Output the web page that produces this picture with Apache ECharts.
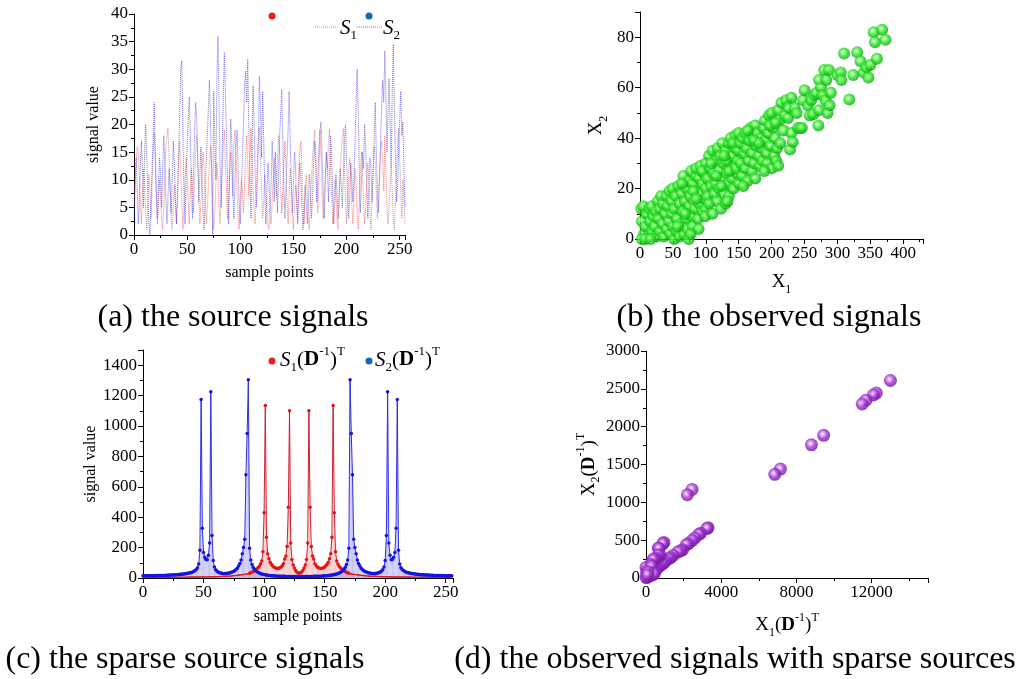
<!DOCTYPE html>
<html>
<head>
<meta charset="utf-8">
<script src="https://cdn.jsdelivr.net/npm/echarts/dist/echarts.min.js"></script>
<style>
html, body { margin: 0; padding: 0; background: #fff; }
#chart { width: 1022px; height: 679px; }
</style>
</head>
<body>
<div id="chart"></div>
<script>
// ---- (a) source signals, 256 samples each ----
const sourceS1 = [
  5,10,13,16,15,11,6,2,8,12,9,4,1,6,11,8,
  3,9,15,18.5,13,7,2,6,10,7,3,1,5,11,16,18,
  19.4,14,8,3,1,5,9,6,2,7,13,17,12,6,1,5,
  10,14,11,6,2,8,12,9,4,10,15,18,13,7,2,6,
  11,15,12,7,2,5,9,13,16,12,6,1,4,9,13,10,
  5,2,7,12,16,19,13,8,3,6,11,15,12,7,16,19,
  14,8,3,1,6,10,8,4,9,14,18,13,7,12,19.4,15,
  9,4,2,7,13,17,19.5,14,8,3,6,11,9,5,2,1,
  4,2,6,10,14,11,7,13,18,15,9,4,8,13,17,12,
  6,2,7,12,9,4,1,5,9,7,3,11,15,17,12,6,
  2,7,11,8,3,1,6,10,14,17,19,15,9,4,10,19,
  14,8,3,6,11,15,12,17,19.2,13,7,2,5,10,8,3,
  1,6,11,15,18,19.3,13,7,2,6,10,14,11,5,2,7,
  12,9,4,1,6,11,15,12,6,2,5,9,13,10,4,1,
  6,12,16,13,8,3,7,11,15,17,13,8,18,12,6,2,
  5,9,12,8,3,1,6,11,16,19.3,14,8,3,10,6,2
];
const sourceS2 = [
  3,8,14,9,2,6,13,17,12,5,15,20,14,8,2,0,
  6,12,17,24,16,8,3,9,14,11,5,12,18,13,6,2,
  7,12,9,4,10,17,13,6,2,8,15,22,30,31.5,18,8,
  2,10,16,21,25,18,9,3,12,19,24,21,14,6,11,16,
  10,4,1,7,13,18,23,28,20,12,0,26,18,10,28,36,
  24,12,5,15,25,33,26,18,10,2,12,21,17,8,3,10,
  16,19,12,6,2,8,14,20,27,29.7,24,31.8,20,10,3,14,
  27,20,11,5,9,17,28.8,22,14,26,18,8,2,7,13,10,
  4,9,17,12,6,15,10,4,11,18,22,26.3,17,9,3,8,
  14,19,26,17,10,4,9,15,12,6,2,8,13,10,5,1,
  4,9,6,2,5,11,8,3,7,13,17,12,6,10,16,19,
  20.5,14,8,3,9,15,12,6,11,18,14,7,2,6,11,8,
  3,7,12,9,5,11,17,20,14,8,3,7,13,10,6,11,
  17,24,30,22,12,4,9,15,12,20,16,9,3,8,14,12,
  6,11,17,24,15,8,4,10,17,23,28,24,33.3,26,15,22,
  28.3,20,12,26,34.5,23,14,6,9,16,21,26,18,20.5,12,5
];

// ---- (b) observed mixtures [X1, X2] ----
const observed = [
  [2,12],[5,13],[3,7],[6,2],[8,5],[10,10],[12,1],[14,12],[15,7],[18,3],[18,13],[20,9],[22,5],[24,11],[25,1],
  [27,15],[28,8],[30,3],[30,12],[32,17],[34,6],[35,14],[36,1],[38,10],[40,17],[40,4],[42,13],[44,7],[45,19],
  [46,2],[48,15],[48,10],[50,20],[50,5],[52,0],[3,0],[8,0],[16,0],
  [52,12],[54,17],[55,3],[56,8],[58,21],[60,14],[60,1],[62,6],[63,18],[65,11],[66,25],[67,2],[68,15],[70,20],
  [70,8],[72,4],[73,23],[75,13],[76,17],[78,9],[78,27],[80,22],[80,5],[82,15],[83,12],[85,25],[85,28],[87,19],
  [88,8],[90,14],[90,24],[92,29],[93,18],[95,11],[95,22],[97,26],[98,16],[100,30],[100,12],[100,20],[57,5],
  [64,22],[69,10],[74,0],[77,2],[81,19],[86,16],[89,4],[94,27],[99,9],
  [102,24],[103,17],[105,33],[105,14],[107,28],[108,21],[110,10],[110,35],[112,26],[113,18],[115,31],[115,22],
  [117,15],[118,36],[120,27],[120,20],[122,33],[123,12],[125,24],[125,38],[127,30],[128,18],[130,14],[130,35],
  [132,26],[133,22],[135,38],[135,17],[137,30],[138,40],[140,24],[140,33],[142,20],[143,29],[145,41],[145,36],
  [147,26],[148,31],[150,42],[150,22],[108,30],[116,25],[124,21],[131,31],[136,27],[141,38],[146,28],[149,35],
  [133,15],[128,33],
  [152,38],[153,30],[155,25],[156,40],[158,34],[160,28],[160,42],[162,36],[163,23],[165,31],[166,39],[168,44],
  [170,34],[170,27],[172,40],[173,30],[175,45],[175,24],[177,37],[178,42],[180,33],[182,29],[183,40],[185,36],
  [186,31],[188,44],[190,39],[190,47],[192,34],[193,30],[195,42],[196,49],[198,37],[200,50],[200,28],[202,44],
  [204,33],[205,40],[207,31],[208,36],[210,29],[210,51],[212,47],[157,21],[164,43],[174,39],[181,38],[189,27],
  [197,45],[206,46],
  [213,38],[215,54],[218,43],[220,49],[222,55],[225,48],[226,52],[228,35.5],[230,42],[232,38.5],[230,56],
  [235,52],[238,50],[240,44],[243,44],[246,44],[248,55],[250,59],[255,53],[258,49],[260,55],[263,49.5],
  [265,57],[268,58],[271,45],[272,51],[272,63],[275,60],[277,57],[280,67],[282,55],[283,63],[285,50],[287,67],
  [288,53],[290,58],[300,65],[305,66],[306,63],[310,73.5],[318,55.3],[324,65],[330,74],[335,70.5],[340,66],
  [344,68],[347,64],[350,69],[355,82],[357,78],[360,71.5],[368,83],[373,79]
];

// ---- (c) sparse sources, 256 samples each ----
const sparseS1 = [
  3,3,3,3,3,3,3,3,3,3, 3,3,3,4,4,4,4,4,4,4, 4,4,4,4,4,4,5,5,5,5, 5,5,5,5,5,5,5,6,6,6,
  6,6,6,6,6,6,7,7,7,7, 7,7,7,7,8,8,8,8,8,9, 9,9,9,10,10,10,11,11,11,12, 12,12,13,13,14,15,16,17,18,19,
  20,21,22,23,24,25,27,29,31,34, 38,42,47,53,60,68,78,92,112,172, 430,1135,268,160,126,104,90,80,72,67,
  64,63,64,67,72,80,94,125,145,208, 465,1100,230,122,86,66,50,40,34,32,
  34,40,50,66,86,122,230,1100,465,208, 145,125,94,80,72,67,64,63,64,67, 72,80,90,104,126,160,268,1135,430,172,
  112,92,78,68,60,53,47,42,38,34, 31,29,27,25,24,23,22,21,20,19, 18,17,16,15,14,13,13,12,12,12,
  11,11,11,10,10,10,9,9,9,9, 8,8,8,8,8,7,7,7,7,7, 7,7,7,6,6,6,6,6,6,6, 6,6,5,5,5,5,5,5,5,5,
  5,5,5,4,4,4,4,4,4,4, 4,4,4,4,4,4,3,3,3,3, 3,3,3,3,3,3
];
const sparseS2 = [
  14,14,14,14,14,15,15,15,15,15, 15,16,16,16,16,17,17,17,17,18, 18,18,19,19,20,20,21,21,22,23,
  23,24,25,26,27,28,30,31,33,35, 37,40,44,49,56,68,92,182,1175,328, 168,136,122,120,149,230,1225,280,115,72,
  55,46,40,36,33,31,30,29,29,30, 31,33,35,38,41,45,50,57,66,80, 95,118,160,200,255,680,950,1305,195,118,
  88,70,58,49,42,37,33,30,27,25, 23,21,20,18,17,16,15,14,14,13, 13,12,12,12,11,11,11,11,10,10,
  10,10,10,10,10,10,10,10,10,10,
  10,10,10,10,10,10,10,10,10,10, 10,11,11,11,11,12,12,12,13,13, 14,14,15,16,17,18,20,21,23,25,
  27,30,33,37,42,49,58,70,88,118, 195,1305,950,680,255,200,160,118,95,80, 66,57,50,45,41,38,35,33,31,30,
  29,29,30,31,33,36,40,46,55,72, 115,280,1225,230,149,120,122,136,168,328, 1175,182,92,68,56,49,44,40,37,35,
  33,31,30,28,27,26,25,24,23,23, 22,21,21,20,20,19,19,18,18,18, 17,17,17,17,16,16,16,16,15,15,
  15,15,15,14,14,14
];

// ---- (d) observed mixtures of the sparse sources [X1(D^-1)^T, X2(D^-1)^T] ----
const sparseObserved = [
  [13000,2610],[12250,2445],[12100,2420],[11700,2350],[11500,2300],[9450,1885],[8800,1760],[7150,1440],
  [6850,1370],[2450,1170],[2200,1100],[3300,665],[3250,655],[2900,590],[2800,575],[2600,530],[2450,495],
  [2250,455],[2150,440],[1950,375],[1850,360],[1700,345],[1450,300],[1300,270],[1200,255],[1050,225],
  [950,470],[900,455],[650,395],[700,390],[950,200],[850,180],[750,300],[650,305],[700,160],[600,130],
  [550,260],[500,240],[450,200],[500,110],[400,90],[350,230],[300,75],[400,250],[250,180],[200,140],
  [150,60],[100,130],[250,50],[200,30],[100,20],[50,100],[0,140],[30,60],[60,10],[10,5],[150,110],
  [300,160],[350,40],[450,60],[120,80],[80,40]
];

const captions = [
  '(a) the source signals',
  '(b) the observed signals',
  '(c) the sparse source signals',
  '(d) the observed signals with sparse sources'
];

const SERIF = "'Liberation Serif', 'Times New Roman', serif";
const idx = sourceS1.map((_, i) => i);
const pairs = (arr) => arr.map((v, i) => [idx[i], v]);

// rich-text styles for symbols with sub/superscripts
function mathStyles(size) {
  const small = Math.round(size * 0.64);
  return {
    n:   { fontFamily: SERIF, fontSize: size, color: '#000', lineHeight: size + 8 },
    i:   { fontFamily: SERIF, fontSize: size, color: '#000', fontStyle: 'italic', lineHeight: size + 8 },
    b:   { fontFamily: SERIF, fontSize: size, color: '#000', fontWeight: 'bold', lineHeight: size + 8 },
    sub: { fontFamily: SERIF, fontSize: small, color: '#000', verticalAlign: 'bottom', lineHeight: small + 4 },
    sup: { fontFamily: SERIF, fontSize: small, color: '#000', verticalAlign: 'top', lineHeight: small + 4 }
  };
}
const axisMath = mathStyles(19);
const legendMath = mathStyles(21);

function valueAxis(opts) {
  return Object.assign({
    type: 'value',
    axisLine: { show: true, onZero: false, lineStyle: { color: '#000', width: 1 } },
    axisTick: { show: true, length: 5, lineStyle: { color: '#000', width: 1 } },
    minorTick: { show: true, splitNumber: 2, length: 3, lineStyle: { color: '#000', width: 1 } },
    splitLine: { show: false },
    minorSplitLine: { show: false },
    nameLocation: 'middle',
    nameTextStyle: { fontFamily: SERIF, fontSize: 16, color: '#000', rich: axisMath }
  }, opts, {
    axisLabel: Object.assign({
      color: '#000', fontFamily: SERIF, fontSize: 17, margin: 6,
      formatter: (v) => String(v)
    }, opts.axisLabel || {})
  });
}

function sphere(light, mid, dark) {
  return {
    type: 'radial', x: 0.42, y: 0.4, r: 0.62,
    colorStops: [
      { offset: 0, color: '#ffffff' },
      { offset: 0.18, color: light },
      { offset: 0.55, color: mid },
      { offset: 1, color: dark }
    ]
  };
}

const chart = echarts.init(document.getElementById('chart'), null, { renderer: 'canvas' });

chart.setOption({
  backgroundColor: '#fff',
  animation: false,
  grid: [
    { left: 134, top: 14, width: 271, height: 221 },
    { left: 640, top: 12, width: 283, height: 227 },
    { left: 143, top: 350, width: 310, height: 228 },
    { left: 646, top: 351, width: 282, height: 227 }
  ],
  xAxis: [
    valueAxis({ gridIndex: 0, min: 0, max: 255, interval: 50, name: 'sample points', nameGap: 30,
      axisLabel: { showMaxLabel: false } }),
    valueAxis({ gridIndex: 1, min: 0, max: 430, interval: 50, name: '{n|X}{sub|1}', nameGap: 30,
      axisLabel: { showMaxLabel: false } }),
    valueAxis({ gridIndex: 2, min: 0, max: 256, interval: 50, name: 'sample points', nameGap: 31,
      axisLabel: { showMaxLabel: false } }),
    valueAxis({ gridIndex: 3, min: 0, max: 15000, interval: 4000, name: '{n|X}{sub|1}{n|(}{b|D}{sup|-1}{n|)}{sup|T}', nameGap: 34,
      axisLabel: { showMaxLabel: false } })
  ],
  yAxis: [
    valueAxis({ gridIndex: 0, min: 0, max: 40, interval: 5, name: 'signal value', nameGap: 32, nameRotate: 90 }),
    valueAxis({ gridIndex: 1, min: 0, max: 90, interval: 20, name: '{n|X}{sub|2}', nameGap: 30, nameRotate: 90,
      axisLabel: { showMaxLabel: false } }),
    valueAxis({ gridIndex: 2, min: 0, max: 1500, interval: 200, name: 'signal value', nameGap: 43, nameRotate: 90,
      axisLabel: { showMaxLabel: false } }),
    valueAxis({ gridIndex: 3, min: 0, max: 3000, interval: 500, name: '{n|X}{sub|2}{n|(}{b|D}{sup|-1}{n|)}{sup|T}', nameGap: 38, nameRotate: 90 })
  ],
  series: [
    // (a)
    { type: 'line', xAxisIndex: 0, yAxisIndex: 0, data: pairs(sourceS1), showSymbol: false,
      lineStyle: { color: 'rgba(228,80,80,0.7)', width: 1, type: 'dotted' } },
    { type: 'line', xAxisIndex: 0, yAxisIndex: 0, data: pairs(sourceS2), showSymbol: false,
      lineStyle: { color: 'rgba(70,70,226,0.75)', width: 1, type: 'dotted' } },
    // (b)
    { type: 'scatter', xAxisIndex: 1, yAxisIndex: 1, data: observed, symbolSize: 12,
      itemStyle: { color: sphere('#8cff78', '#22dd22', '#0f9e0f') } },
    // (c) S1 stems and samples, then S2 stems and samples drawn over them
    { type: 'bar', xAxisIndex: 2, yAxisIndex: 2, data: pairs(sparseS1), barWidth: 1, barGap: '-100%',
      itemStyle: { color: 'rgba(240,120,120,0.42)' } },
    { type: 'line', xAxisIndex: 2, yAxisIndex: 2, data: pairs(sparseS1), showAllSymbol: true,
      symbol: 'circle', symbolSize: (v) => (v[1] < 30 ? 1.5 : 3.5),
      itemStyle: { color: '#e61414' }, lineStyle: { color: '#cc2236', width: 1 } },
    { type: 'bar', xAxisIndex: 2, yAxisIndex: 2, data: pairs(sparseS2), barWidth: 1, barGap: '-100%',
      itemStyle: { color: 'rgba(110,110,240,0.42)' } },
    { type: 'line', xAxisIndex: 2, yAxisIndex: 2, data: pairs(sparseS2), showAllSymbol: true,
      symbol: 'circle', symbolSize: 3.5,
      itemStyle: { color: '#1414e6' }, lineStyle: { color: '#3030e0', width: 1 } },
    // (d)
    { type: 'scatter', xAxisIndex: 3, yAxisIndex: 3, data: sparseObserved, symbolSize: 13,
      itemStyle: { color: sphere('#e0a8f5', '#9a2fcf', '#6e1596') } }
  ],
  graphic: [
    // legend of (a)
    { type: 'circle', shape: { cx: 272, cy: 16, r: 3.5 }, style: { fill: '#ee1c1c' } },
    { type: 'line', shape: { x1: 315, y1: 27, x2: 339, y2: 27 },
      style: { stroke: 'rgba(228,80,80,0.7)', lineWidth: 1, lineDash: [1, 1] } },
    { type: 'text', x: 340, y: 28, style: { text: '{i|S}{sub|1}', rich: legendMath, verticalAlign: 'middle', align: 'left' } },
    { type: 'circle', shape: { cx: 369, cy: 16, r: 3.5 }, style: { fill: '#1666c0' } },
    { type: 'line', shape: { x1: 357, y1: 27, x2: 382, y2: 27 },
      style: { stroke: 'rgba(70,70,226,0.75)', lineWidth: 1, lineDash: [1, 1] } },
    { type: 'text', x: 383, y: 28, style: { text: '{i|S}{sub|2}', rich: legendMath, verticalAlign: 'middle', align: 'left' } },
    // legend of (c)
    { type: 'circle', shape: { cx: 272, cy: 361, r: 3.5 }, style: { fill: '#ee1c1c' } },
    { type: 'text', x: 280, y: 360, style: { text: '{i|S}{sub|1}{n|(}{b|D}{sup|-1}{n|)}{sup|T}', rich: legendMath, verticalAlign: 'middle', align: 'left' } },
    { type: 'circle', shape: { cx: 369, cy: 361, r: 3.5 }, style: { fill: '#1666c0' } },
    { type: 'text', x: 375, y: 360, style: { text: '{i|S}{sub|2}{n|(}{b|D}{sup|-1}{n|)}{sup|T}', rich: legendMath, verticalAlign: 'middle', align: 'left' } },
    // captions
    { type: 'text', x: 233, y: 318, style: { text: captions[0], font: '32px ' + SERIF, fill: '#000', align: 'center', verticalAlign: 'middle' } },
    { type: 'text', x: 769, y: 318, style: { text: captions[1], font: '32px ' + SERIF, fill: '#000', align: 'center', verticalAlign: 'middle' } },
    { type: 'text', x: 185, y: 660, style: { text: captions[2], font: '32px ' + SERIF, fill: '#000', align: 'center', verticalAlign: 'middle' } },
    { type: 'text', x: 735, y: 660, style: { text: captions[3], font: '32px ' + SERIF, fill: '#000', align: 'center', verticalAlign: 'middle' } }
  ]
});
</script>
</body>
</html>
